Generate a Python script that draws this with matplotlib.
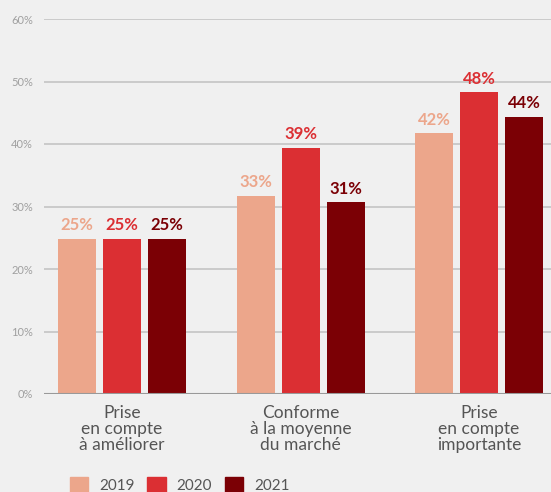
import matplotlib.pyplot as plt
import numpy as np
from matplotlib.patches import Patch

categories = ["Prise\nen compte\nà améliorer", "Conforme\nà la moyenne\ndu marché", "Prise\nen compte\nimportante"]
years = ["2019", "2020", "2021"]
values = {
    "2019": [24.8, 31.7, 41.7],
    "2020": [24.8, 39.4, 48.3],
    "2021": [24.8, 30.7, 44.4],
}
labels = {
    "2019": ["25%", "33%", "42%"],
    "2020": ["25%", "39%", "48%"],
    "2021": ["25%", "31%", "44%"],
}
colors = ["#eca68b", "#db2f33", "#7b0005"]
yticks = [0, 10, 20, 30, 40, 50, 60]

plt.rcParams['font.family'] = ['Lato', 'DejaVu Sans']
bg = "#f0f0f0"
fig = plt.figure(figsize=(5.51, 4.92), dpi=100, facecolor=bg)
ax = fig.add_axes([44/551, 98/492, 507/551, 375/492], facecolor=bg)

x = np.arange(len(categories))
step = 0.252
width = 0.213
for i, yr in enumerate(years):
    pos = x + (i - 1) * step
    ax.bar(pos, values[yr], width, color=colors[i], zorder=2)
    for p, v, t in zip(pos, values[yr], labels[yr]):
        ax.text(p, v + 0.9, t, ha='center', va='bottom', fontsize=12,
                fontweight='bold', color=colors[i], zorder=3)

ax.set_xlim(-0.437, 2.403)
ax.set_ylim(0, 60)
ax.set_yticks(yticks)
ax.set_yticklabels([f"{t}%" for t in yticks], fontsize=8, color="#a0a0a0")
ax.yaxis.grid(True, color="#c4c4c4", linewidth=1.2, zorder=0)
ax.axhline(0, color="#999999", linewidth=1.5, zorder=4)
ax.tick_params(axis='y', length=0, pad=8)
ax.set_xticks(x)
ax.set_xticklabels(categories, fontsize=12.5, color="#555555", linespacing=1.0)
ax.tick_params(axis='x', length=0, pad=8)
for s in ax.spines.values():
    s.set_visible(False)

handles = [Patch(color=c, label=y) for c, y in zip(colors, years)]
fig.legend(handles=handles, loc='lower left', bbox_to_anchor=(0.102, -0.03),
           ncol=3, frameon=False, fontsize=11, handlelength=1.2, handleheight=1.2,
           columnspacing=0.85, handletextpad=0.7, labelcolor="#555555")

fig.savefig("out.png", dpi=100, facecolor=bg)
